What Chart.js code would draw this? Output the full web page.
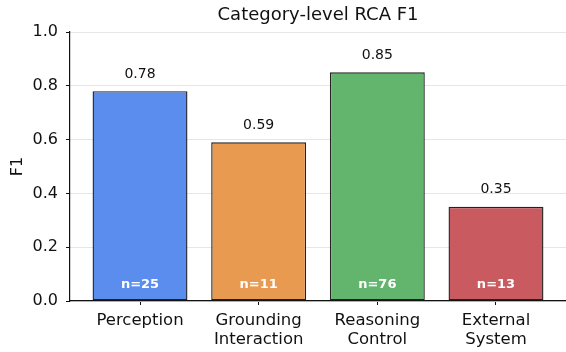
<!DOCTYPE html>
<html>
<head>
<meta charset="utf-8">
<script src="https://cdn.jsdelivr.net/npm/chart.js@4.4.1/dist/chart.umd.min.js"></script>
<style>
  html, body { margin: 0; padding: 0; background: #fff; }
  #wrap { width: 566px; height: 352px; }
</style>
</head>
<body>
<div id="wrap"><canvas id="c" width="566" height="352"></canvas></div>
<script>
// Category-level RCA F1 bar chart
const categories = [['Perception'], ['Grounding', 'Interaction'], ['Reasoning', 'Control'], ['External', 'System']];
const f1Scores = [0.78, 0.59, 0.85, 0.35];
const sampleCounts = [25, 11, 76, 13];
const barColors = ['#5b8def', '#e89a50', '#63b46c', '#c95a60'];
const yTicks = [0, 0.2, 0.4, 0.6, 0.8, 1.0];

const FONT = "'DejaVu Sans', sans-serif";

const barLabels = {
    id: 'barLabels',
    afterDatasetsDraw(chart) {
        const { ctx, chartArea } = chart;
        const meta = chart.getDatasetMeta(0);
        const yScale = chart.scales.y;
        ctx.save();
        ctx.textAlign = 'center';
        ctx.textBaseline = 'middle';
        meta.data.forEach((bar, i) => {
            ctx.fillStyle = '#111';
            ctx.font = `14px ${FONT}`;
            ctx.fillText(f1Scores[i].toFixed(2), bar.x, bar.y - 17);
            ctx.fillStyle = '#fff';
            ctx.font = `bold 13px ${FONT}`;
            ctx.fillText(`n=${sampleCounts[i]}`, bar.x, yScale.getPixelForValue(0) - 16);
        });
        // title centred on the plot area
        ctx.fillStyle = '#111';
        ctx.font = `18px ${FONT}`;
        ctx.fillText('Category-level RCA F1', (chartArea.left + chartArea.right) / 2, 15);
        ctx.restore();
    },
};

new Chart(document.getElementById('c').getContext('2d'), {
    type: 'bar',
    data: {
        datasets: [{
            data: f1Scores.map((v, i) => ({ x: i, y: v })),
            backgroundColor: barColors,
            borderColor: '#222',
            borderWidth: 1.4,
            borderSkipped: false,
            barPercentage: 0.8,
            categoryPercentage: 1,
        }],
    },
    plugins: [barLabels],
    options: {
        responsive: false,
        animation: false,
        layout: { padding: { top: 32, right: 0, bottom: 0, left: 0 } },
        plugins: { legend: { display: false }, tooltip: { enabled: false }, title: { display: false } },
        scales: {
            x: {
                type: 'linear',
                offset: false,
                min: -0.59,
                max: 3.59,
                afterFit: s => { s.height = 51; },
                afterBuildTicks: s => { s.ticks = categories.map((_, i) => ({ value: i })); },
                ticks: {
                    font: { family: FONT, size: 16.5, lineHeight: 1.18 },
                    color: '#111',
                    padding: 6,
                    autoSkip: false,
                    maxRotation: 0,
                    callback: v => categories[v],
                },
                grid: { offset: false, drawOnChartArea: false, drawTicks: true, tickLength: 4, tickColor: '#111' },
                border: { color: '#111', width: 1.2 },
            },
            y: {
                min: 0,
                max: 1,
                afterFit: s => { s.width = 70; },
                afterBuildTicks: s => { s.ticks = yTicks.map(v => ({ value: v })); },
                ticks: {
                    font: { family: FONT, size: 16 },
                    color: '#111',
                    padding: 8,
                    callback: v => v.toFixed(1),
                },
                title: { display: true, text: 'F1', font: { family: FONT, size: 16 }, color: '#111', padding: { top: 8, bottom: 0 } },
                grid: { color: '#e6e6e6', lineWidth: 1, tickLength: 4, tickColor: '#111' },
                border: { color: '#111', width: 1.2 },
            },
        },
    },
});
</script>
</body>
</html>
